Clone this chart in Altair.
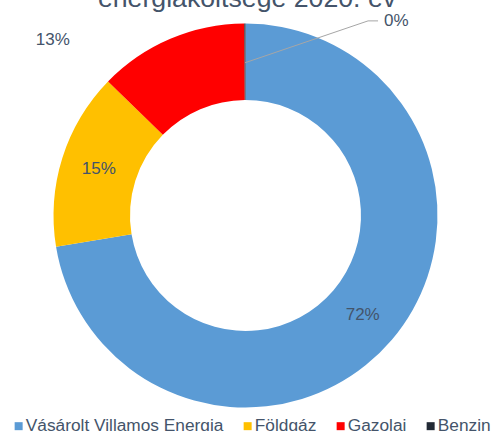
import math
import altair as alt
import pandas as pd

# ---- data ----
categories = ["Vásárolt Villamos Energia", "Földgáz", "Gazolaj", "Benzin"]
shares = [72.4, 14.9, 12.6, 0.1]
label_texts = ["72%", "15%", "13%", "0%"]
colors = ["#5B9BD5", "#FFC000", "#FF0000", "#222A35"]
title_text = "energiaköltsége 2020. év"

# ---- layout ----
W, H = 491, 431
CX, CY = W / 2, H / 2
R_OUT, R_IN = 192, 115.5
R_MID = (R_OUT + R_IN) / 2
TXT = "#44546A"
FONT = "Liberation Sans"

# label placement: default = ring middle at slice mid-angle; overrides (angle deg, radius)
outside = {"Gazolaj": (312.4, 261), "Benzin": (37.8, 246)}


def polar(angle_deg, r):
    a = math.radians(angle_deg)
    return CX + r * math.sin(a), CY - r * math.cos(a)


total = sum(shares)
rows, lab_rows = [], []
cum = 0.0
for i, (c, s, t) in enumerate(zip(categories, shares, label_texts)):
    mid = (cum + s / 2) / total * 360
    cum += s
    rows.append({"cat": c, "val": s, "ord": i})
    ang, r = outside.get(c, (mid, R_MID))
    x, y = polar(ang, r)
    lab_rows.append({"cat": c, "lab": t, "x": x, "y": y})

df = pd.DataFrame(rows)
lab_df = pd.DataFrame(lab_rows)

# leader line for the Benzin label
bz_mid = (total - shares[-1] / 2) / total * 360
p0 = polar(bz_mid, R_MID - 1)
p1 = polar(32.2, 230)
p2 = (p1[0] + 10, p1[1])
lead_df = pd.DataFrame({"x": [p0[0], p1[0], p2[0]], "y": [p0[1], p1[1], p2[1]], "o": [0, 1, 2]})

arc = alt.Chart(df).mark_arc(outerRadius=R_OUT, innerRadius=R_IN).encode(
    theta=alt.Theta("val:Q", stack=True),
    order=alt.Order("ord:Q"),
    color=alt.Color(
        "cat:N",
        scale=alt.Scale(domain=categories, range=colors),
        sort=categories,
        legend=alt.Legend(
            title=None,
            orient="none",
            legendX=10,
            legendY=417.5,
            direction="horizontal",
            symbolType="square",
            symbolSize=64,
            symbolStrokeWidth=0,
            labelFontSize=17.3,
            labelFont=FONT,
            labelColor=TXT,
            labelOffset={"expr": "-1.5"},
            columnPadding=15,
            padding=0,
            labelLimit=400,
        ),
    ),
)

labels = alt.Chart(lab_df).mark_text(font=FONT, fontSize=17, color=TXT, align="center", baseline="middle").encode(
    x=alt.X("x:Q", scale=None, axis=None),
    y=alt.Y("y:Q", scale=None, axis=None),
    text="lab:N",
)

leader = alt.Chart(lead_df).mark_line(color="#A6A6A6", strokeWidth=1).encode(
    x=alt.X("x:Q", scale=None, axis=None),
    y=alt.Y("y:Q", scale=None, axis=None),
    order="o:Q",
)

title = alt.Chart(pd.DataFrame({"t": [title_text]})).mark_text(
    font=FONT, fontSize=26.7, color=TXT, align="center", baseline="alphabetic"
).encode(x=alt.value(247), y=alt.value(7), text="t:N")

chart = (
    alt.layer(arc, leader, labels, title)
    .properties(width=W, height=H, padding=0, autosize=alt.AutoSizeParams(type="none"))
    .configure_view(stroke=None)
)

chart.save("out.html", embed_options={"renderer": "svg", "actions": False})
